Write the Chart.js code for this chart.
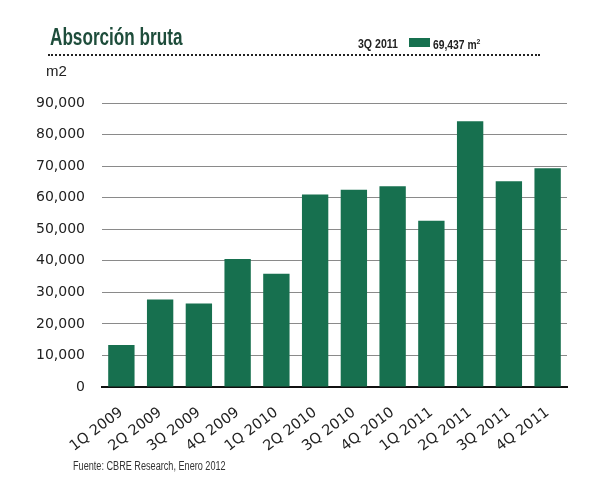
<!DOCTYPE html>
<html>
<head>
<meta charset="utf-8">
<script src="https://cdn.jsdelivr.net/npm/chart.js@4.4.1/dist/chart.umd.min.js"></script>
<style>
  body { margin: 0; background: #fff; }
  #wrap { position: relative; width: 589px; height: 487px; }
  #myChart { position: absolute; left: 0; top: 0; }
  .txt { position: absolute; white-space: nowrap; transform-origin: left top; line-height: normal; }
  #title { left: 50px; top: 24px; font: bold 23.5px 'Liberation Sans', Arial, sans-serif; color: #1e4d3b; transform: scaleX(0.73); }
  #rule { position: absolute; left: 48px; top: 54px; width: 492px; border-top: 2px dotted #222; }
  #legPeriod { left: 358px; top: 37px; font: bold 12px 'Liberation Sans', Arial, sans-serif; color: #222; transform: scaleX(0.88); }
  #legBox { position: absolute; left: 409px; top: 38px; width: 21px; height: 9px; background: #17704f; }
  #legVal { left: 433px; top: 37px; font: bold 12px 'Liberation Sans', Arial, sans-serif; color: #222; transform: scaleX(0.86); }
  #unit { left: 46px; top: 62px; font: 15px 'Liberation Sans', Arial, sans-serif; color: #222; }
  #source { left: 73px; top: 459px; font: 12.5px 'Liberation Sans', Arial, sans-serif; color: #333; transform: scaleX(0.73); }
</style>
</head>
<body>
<div id="wrap">
  <canvas id="myChart" width="589" height="487"></canvas>
  <div class="txt" id="title">Absorción bruta</div>
  <div id="rule"></div>
  <div class="txt" id="legPeriod">3Q 2011</div>
  <div id="legBox"></div>
  <div class="txt" id="legVal">69,437 m<sup style="font-size:8px">2</sup></div>
  <div class="txt" id="unit">m2</div>
  <div class="txt" id="source">Fuente: CBRE Research, Enero 2012</div>
</div>
<script>
var ctx1 = document.getElementById('myChart');

const quarters = ['1Q 2009', '2Q 2009', '3Q 2009', '4Q 2009', '1Q 2010', '2Q 2010',
                  '3Q 2010', '4Q 2010', '1Q 2011', '2Q 2011', '3Q 2011', '4Q 2011'];
const absorcion = [13300, 27700, 26500, 40600, 35900, 61000,
                   62500, 63600, 52700, 84200, 65200, 69300];
const yTicks = [0, 10000, 20000, 30000, 40000, 50000, 60000, 70000, 80000, 90000];

var myChart1 = new Chart(ctx1, {
  type: 'bar',
  data: {
    labels: quarters,
    datasets: [{
      label: 'Absorción bruta',
      data: absorcion,
      backgroundColor: '#17704f',
      categoryPercentage: 0.68,
      barPercentage: 1.0,
    }]
  },
  options: {
    responsive: false,
    animation: false,
    layout: { padding: { left: 20, right: 22, top: 103, bottom: 0 } },
    plugins: {
      legend: { display: false },
      tooltip: { enabled: false },
    },
    scales: {
      x: {
        grid: { display: false },
        border: { display: true, color: '#111', width: 2 },
        ticks: {
          color: '#222',
          font: { family: 'DejaVu Sans', size: 14.5 },
          minRotation: 37,
          maxRotation: 37,
          padding: 9,
        },
        afterFit(scale) { scale.height = 100; }
      },
      y: {
        min: 0,
        max: 90000,
        afterBuildTicks(scale) { scale.ticks = yTicks.map(v => ({ value: v })); },
        grid: {
          color: (c) => c.tick && c.tick.value === 0 ? '#111' : '#8a8a8a',
          lineWidth: 1,
          drawTicks: false,
        },
        border: { display: false },
        ticks: {
          color: '#222',
          padding: 17,
          font: { family: 'DejaVu Sans', size: 14 },
          callback: (v) => v.toLocaleString('en-US'),
        },
        afterFit(scale) { scale.width = 82; }
      }
    }
  }
});
</script>
</body>
</html>
